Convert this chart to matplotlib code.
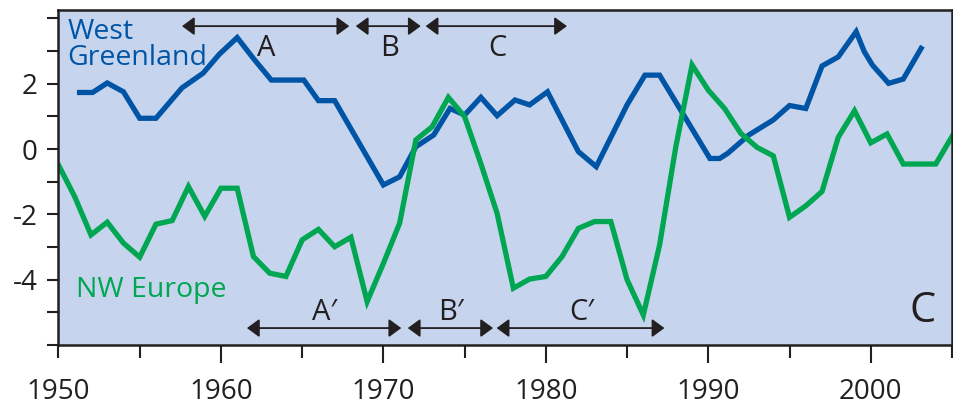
import matplotlib
matplotlib.use("Agg")
import matplotlib.pyplot as plt

plt.rcParams["font.family"] = ["Open Sans", "DejaVu Sans"]
plt.rcParams["axes.unicode_minus"] = False

# West Greenland series (vertices)
greenland_years = [1951.3, 1952.1, 1953.0, 1954.0, 1955.0, 1956.0, 1957.6, 1958.9,
                   1959.9, 1961.0, 1962.0, 1963.1, 1965.1, 1966.0, 1967.0, 1970.0,
                   1971.0, 1972.0, 1973.1, 1974.1, 1975.0, 1976.0, 1977.0, 1978.1,
                   1979.0, 1980.1, 1982.0, 1983.1, 1985.0, 1986.1, 1987.0, 1990.1,
                   1990.7, 1991.2, 1992.5, 1994.0, 1995.0, 1996.0, 1997.0, 1998.0,
                   1999.1, 1999.6, 2000.1, 2001.1, 2002.0, 2003.1]
greenland_vals = [1.73, 1.73, 2.02, 1.75, 0.94, 0.94, 1.87, 2.32,
                  2.90, 3.41, 2.77, 2.11, 2.11, 1.48, 1.48, -1.10,
                  -0.85, 0.07, 0.43, 1.24, 1.04, 1.58, 1.02, 1.50,
                  1.35, 1.75, -0.08, -0.54, 1.35, 2.26, 2.26, -0.29,
                  -0.29, -0.13, 0.43, 0.89, 1.33, 1.24, 2.54, 2.82,
                  3.59, 2.98, 2.57, 2.01, 2.14, 3.08]

# NW Europe series, annual 1950-2005
europe_years = list(range(1950, 2006))
europe_vals = [-0.49, -1.46, -2.63, -2.24, -2.88, -3.31, -2.30, -2.19, -1.15, -2.06,
               -1.20, -1.20, -3.29, -3.80, -3.90, -2.78, -2.46, -2.99, -2.70, -4.67,
               -3.50, -2.27, 0.28, 0.68, 1.58, 0.99, -0.45, -1.97, -4.26, -3.98,
               -3.90, -3.29, -2.43, -2.22, -2.22, -4.00, -5.08, -2.94, 0.07, 2.57,
               1.80, 1.24, 0.48, 0.05, -0.21, -2.09, -1.74, -1.30, 0.36, 1.17,
               0.19, 0.46, -0.46, -0.46, -0.46, 0.38]

# period arrows: (label, start, end)
top_periods = [("A", 1957.6, 1967.9), ("B", 1968.3, 1972.3), ("C", 1972.6, 1981.3)]
bottom_periods = [("A\u2032", 1961.6, 1971.1), ("B\u2032", 1971.5, 1976.75),
                  ("C\u2032", 1976.97, 1987.3)]
top_arrow_y = 3.76
bottom_arrow_y = -5.48

blue = "#0054a6"
green = "#00a651"
ink = "#231f20"

fig = plt.figure(figsize=(9.54, 4.05), dpi=100)
ax = fig.add_axes([0.0613, 0.148, 0.9366, 0.827])
ax.set_facecolor("#c6d5ed")

ax.plot(greenland_years, greenland_vals, color=blue, lw=3.8, solid_joinstyle="miter")
ax.plot(europe_years, europe_vals, color=green, lw=3.8, solid_joinstyle="miter")

for periods, y, dy in [(top_periods, top_arrow_y, -0.67), (bottom_periods, bottom_arrow_y, 0.47)]:
    for lab, x0, x1 in periods:
        ax.annotate("", xy=(x1, y), xytext=(x0, y),
                    arrowprops=dict(arrowstyle="<|-|>,head_length=0.75,head_width=0.55",
                                    color=ink, lw=1.3, shrinkA=0, shrinkB=0))
        ax.text((x0 + x1) / 2 + 0.05, y + dy, lab, ha="center", va="center",
                fontsize=21, color=ink)

ax.text(1950.55, 4.02, "West\nGreenland", color=blue, fontsize=20.5,
        ha="left", va="top", linespacing=0.92)
ax.text(1951.1, -4.52, "NW Europe", color=green, fontsize=20.5,
        ha="left", va="baseline")
ax.text(2003.2, -4.97, "C", color=ink, fontsize=30, ha="center", va="center")

ax.set_xlim(1950, 2005)
ax.set_ylim(-6, 4.25)

ax.set_xticks([1960, 1970, 1980, 1990, 2000])
ax.set_xticklabels(["1960", "1970", "1980", "1990", "2000"])
ax.set_xticks([1950, 1955, 1965, 1975, 1985, 1995, 2005], minor=True)
ax.set_xticklabels(["1950", "", "", "", "", "", ""], minor=True)
ax.set_yticks([-4, -2, 0, 2])
ax.set_yticks([-6, -5, -3, -1, 1, 3, 4], minor=True)

ax.tick_params(axis="x", which="major", direction="out", length=13, width=1.5,
               pad=11, labelsize=20, colors=ink)
ax.tick_params(axis="x", which="minor", direction="out", length=9, width=1.5,
               pad=15, labelsize=20, colors=ink)
ax.tick_params(axis="y", which="both", direction="out", length=8, width=1.5,
               pad=7, labelsize=20, colors=ink)

for s in ax.spines.values():
    s.set_linewidth(1.8)
    s.set_color(ink)

fig.savefig("out.png", dpi=100)
